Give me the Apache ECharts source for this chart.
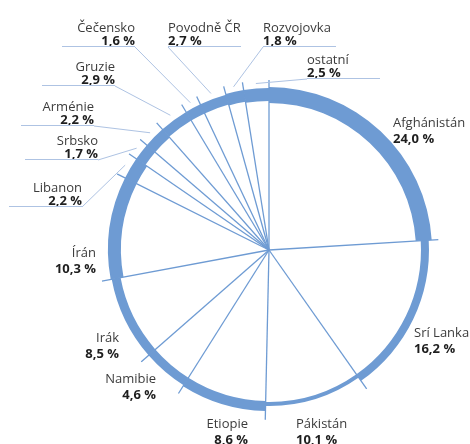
<!DOCTYPE html>
<html>
<head>
<meta charset="utf-8">
<script src="https://cdn.jsdelivr.net/npm/echarts@6/dist/echarts.min.js"></script>
<style>
  html, body { margin: 0; padding: 0; background: #fff; }
  #chart { width: 470px; height: 444px; }
</style>
</head>
<body>
<div id="chart"></div>
<script>
  // podíl jednotlivých zemí (%), po směru hodin od 12 h
  const names = ['Afghánistán', 'Srí Lanka', 'Pákistán', 'Etiopie', 'Namibie', 'Irák', 'Írán',
    'Libanon', 'Srbsko', 'Arménie', 'Gruzie', 'Čečensko', 'Povodně ČR', 'Rozvojovka', 'ostatní'];
  const shares = [24.0, 16.2, 10.1, 8.6, 4.6, 8.5, 10.3, 2.2, 1.7, 2.2, 2.9, 1.6, 2.7, 1.8, 2.5];

  // styl prstence – vnitřní / vnější poloměr pro každou výseč
  const ringInner = [147, 152, 152, 151, 151, 151, 148, 148, 150, 150, 151, 151, 151, 150, 149];
  const ringOuter = [163, 160, 156, 161, 160, 160, 161, 161, 161, 161, 161, 161, 161, 162, 162];

  // umístění popisků: [x, y, zarovnání, vodicí čára]
  const labelAnchor = [
    [393, 130, 'left', false],
    [414, 340, 'left', false],
    [296, 431, 'left', false],
    [248, 431, 'right', false],
    [156, 386, 'right', false],
    [119, 345, 'right', false],
    [96, 260, 'right', false],
    [82, 207, 'right', true],
    [98, 160, 'right', true],
    [94, 126, 'right', true],
    [115, 86, 'right', true],
    [135, 47, 'right', true],
    [168, 47, 'left', true],
    [263, 47, 'left', true],
    [307, 79, 'left', true]
  ];

  const center = [269, 250];
  const blue = '#6e9bd3';
  const leaderColor = '#aec3e3';
  const total = shares.reduce((s, v) => s + v, 0);

  const bounds = [];
  let acc = 0;
  shares.forEach(v => { bounds.push(acc); acc += v; });

  const fmt = v => v.toFixed(1).replace('.', ',') + ' %';

  const chart = echarts.init(document.getElementById('chart'), null, {renderer: 'canvas'});

  const series = [];

  // hranice výsečí (paprsky)
  bounds.forEach(b => {
    series.push({
      type: 'line',
      coordinateSystem: 'polar',
      data: [[0, b], [1, b]],
      symbol: 'none',
      silent: true,
      lineStyle: {color: blue, width: 1.3},
      z: 2
    });
  });

  // prstenec s proměnnou tloušťkou
  shares.forEach((s, i) => {
    series.push({
      type: 'pie',
      center: center,
      radius: [ringInner[i], ringOuter[i]],
      startAngle: 90,
      silent: true,
      label: {show: false},
      labelLine: {show: false},
      itemStyle: {borderWidth: 0},
      data: shares.map((v, j) => ({
        value: v,
        itemStyle: {color: j === i ? blue : 'rgba(0,0,0,0)'}
      })),
      z: 3
    });
  });

  // popisky
  series.push({
    type: 'pie',
    center: center,
    radius: 167,
    startAngle: 90,
    silent: true,
    avoidLabelOverlap: false,
    itemStyle: {color: 'rgba(0,0,0,0)', borderWidth: 0},
    labelLine: {lineStyle: {color: leaderColor, width: 1}, smooth: false},
    data: shares.map((v, i) => {
      const a = labelAnchor[i];
      const al = a[2];
      return {
        name: names[i],
        value: v,
        label: {
          show: true,
          position: 'outside',
          overflow: 'none',
          formatter: '{n|' + names[i] + '}\n{v|' + fmt(v) + '}' + (a[3] ? '\n{hr|}' : ''),
          rich: {
            n: {fontFamily: 'Open Sans', fontSize: 13, color: '#3c3c3c', lineHeight: 18, align: al},
            v: {fontFamily: 'Open Sans', fontSize: 13, fontWeight: 'bold', color: '#1e1e1e', lineHeight: a[3] ? 9 : 14, align: al},
            hr: {width: 73, height: 1, lineHeight: 1, backgroundColor: leaderColor, align: al}
          }
        },
        labelLine: {show: a[3]}
      };
    }),
    labelLayout: function (params) {
      const a = labelAnchor[params.dataIndex];
      const res = {x: a[0], y: a[1], align: a[2], verticalAlign: a[3] ? 'bottom' : 'middle'};
      if (a[3] && params.labelLinePoints) {
        res.labelLinePoints = [params.labelLinePoints[0], [a[0], a[1]], [a[0], a[1]]];
      }
      return res;
    },
    z: 4
  });

  chart.setOption({
    animation: false,
    backgroundColor: '#fff',
    polar: {center: center, radius: 170},
    angleAxis: {
      type: 'value', min: 0, max: total, startAngle: 90, clockwise: true,
      show: false, axisLine: {show: false}, splitLine: {show: false}
    },
    radiusAxis: {
      type: 'value', min: 0, max: 1, show: false,
      axisLine: {show: false}, splitLine: {show: false}
    },
    series: series
  });
</script>
</body>
</html>
